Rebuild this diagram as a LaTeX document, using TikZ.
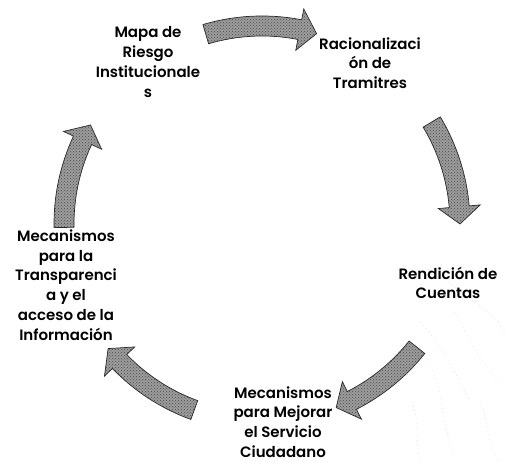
\documentclass[tikz,border=0pt]{standalone}
\usepackage{fontspec}
\IfFontExistsTF{Poppins SemiBold}{\setmainfont{Poppins SemiBold}}{%
  \IfFontExistsTF{Poppins Medium}{\setmainfont{Poppins Medium}}{\setmainfont{Poppins}}}
\usetikzlibrary{calc,patterns}
\begin{document}
\begin{tikzpicture}[x=1pt,y=1pt,
  lbl/.style={align=center, font=\fontsize{15}{19.7}\selectfont, inner sep=0pt},
  cyc/.style={fill=gray!78, draw=black!85, line width=0.7pt,
    postaction={pattern=crosshatch dots, pattern color=black!70}},
  noise/.style={draw=gray!35, line width=0.5pt, dash pattern=on 0.7pt off 3.6pt}]
\useasboundingbox (0,0) rectangle (506,462);
\coordinate (C) at (262,238);
\newcommand\cycarr[3]{%
  \path[cyc] ($(C)+(#1:208pt)$) arc[start angle=#1, end angle=#2, radius=208pt]
    -- ($(C)+(#2:219pt)$) -- ($(C)+(#3:198pt)$) -- ($(C)+(#2:177pt)$)
    -- ($(C)+(#2:188pt)$) arc[start angle=#2, end angle=#1, radius=188pt] -- cycle;}
% faint scan noise, lower right
\draw[noise] (448,180) .. controls (470,160) and (500,150) .. (505,125);
\draw[noise] (420,140) .. controls (440,120) and (455,90) .. (470,60);
\draw[noise] (455,150) .. controls (470,120) and (480,100) .. (500,80);
\draw[noise] (430,95) .. controls (445,70) and (440,40) .. (455,5);
\draw[noise] (480,60) .. controls (490,40) and (485,20) .. (500,0);
\draw[noise] (412,60) .. controls (420,40) and (415,20) .. (420,0);
% nodes
\node[lbl] (mapa) at (148,400) {Mapa de\\Riesgo\\Institucionale\\s};
\node[lbl] (racio) at (370,399) {Racionalizaci\\ón de\\Tramitres};
\node[lbl] (rend) at (448,179) {Rendición de\\Cuentas};
\node[lbl] (mejor) at (283,40) {Mecanismos\\para Mejorar\\el Servicio\\Ciudadano};
\node[lbl] (transp) at (66,177) {Mecanismos\\para la\\Transparenci\\a y el\\acceso de la\\Información};
% arrows
\cycarr{106.5}{79}{74}
\cycarr{31}{5}{0}
\cycarr{-38.5}{-63}{-68}
\cycarr{-110}{-136}{-141}
\cycarr{181}{155}{150}
\end{tikzpicture}
\end{document}
